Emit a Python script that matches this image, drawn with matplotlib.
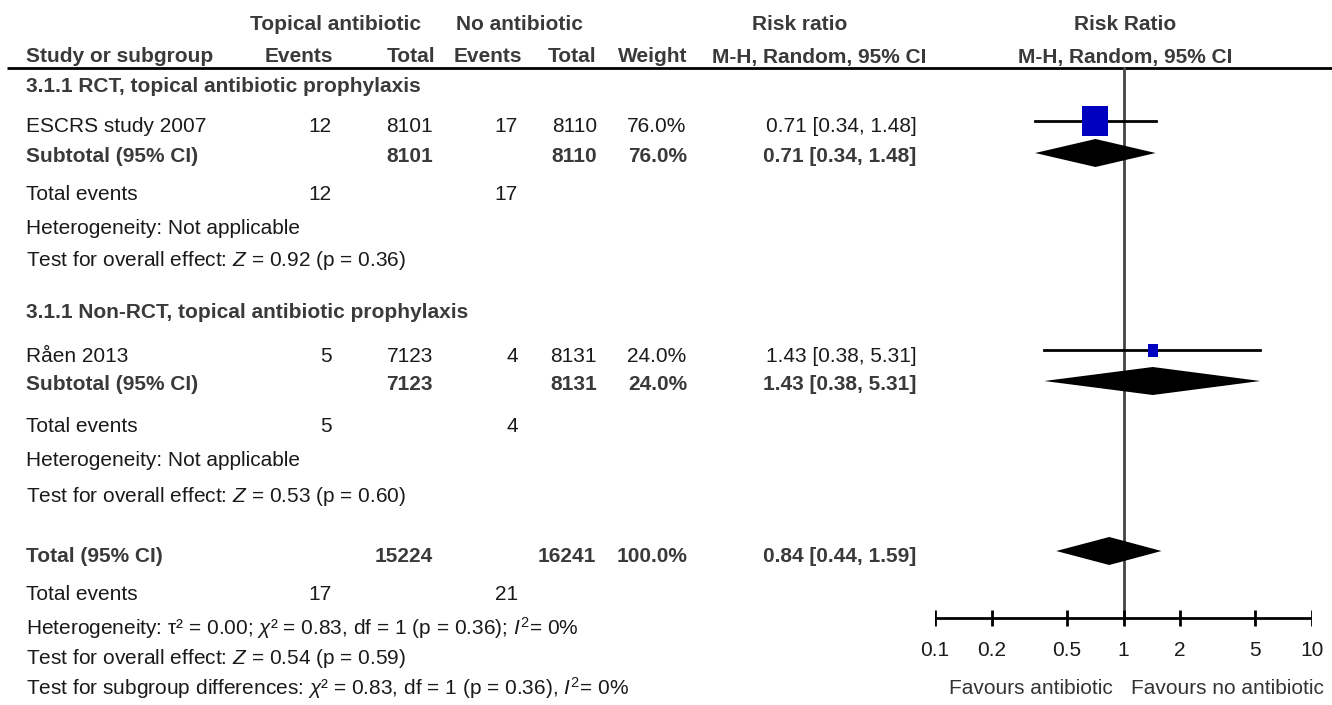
import matplotlib
matplotlib.use('Agg')
import matplotlib.pyplot as plt
from matplotlib import font_manager

# the reference uses an Arial Narrow look; use Liberation Sans Narrow when present
try:
    font_manager.findfont('Liberation Sans Narrow', fallback_to_default=False)
    FAMILY, FS = 'Liberation Sans Narrow', 17.5
except Exception:
    FAMILY, FS = 'Liberation Sans', 15

plt.rcParams['font.family'] = [FAMILY, 'Liberation Sans', 'DejaVu Sans']
plt.rcParams['font.size'] = FS
plt.rcParams['mathtext.fontset'] = 'custom'
plt.rcParams['mathtext.rm'] = FAMILY
plt.rcParams['mathtext.it'] = FAMILY + ':italic'

# study data
studies = ['ESCRS study 2007', 'Råen 2013']
ev_trt = [12, 5]
n_trt = [8101, 7123]
ev_ctl = [17, 4]
n_ctl = [8110, 8131]
weights = [76.0, 24.0]
rr = [0.71, 1.43]
rr_lo = [0.34, 0.38]
rr_hi = [1.48, 5.31]

groups = ['3.1.1 RCT, topical antibiotic prophylaxis',
          '3.1.1 Non-RCT, topical antibiotic prophylaxis']
group_z = ['0.92 (p = 0.36)', '0.53 (p = 0.60)']

tot_n_trt, tot_n_ctl = 15224, 16241
tot_ev_trt, tot_ev_ctl = 17, 21
tot_rr, tot_lo, tot_hi = 0.84, 0.44, 1.59

ticks = [0.1, 0.2, 0.5, 1, 2, 5, 10]
tick_labels = ['0.1', '0.2', '0.5', '1', '2', '5', '10']

DARK = '#1a1a1a'
BOLD = '#3a3a3a'
BLUE = '#0000c0'

fig = plt.figure(figsize=(13.32, 7.05), dpi=100)
ax = fig.add_axes([0, 0, 1, 1])
ax.set_xlim(0, 1332)
ax.set_ylim(705, 0)
ax.axis('off')

# forest panel: log x scale, pixel y
fx0, fx1 = 935, 1312
fa = fig.add_axes([fx0 / 1332, 0, (fx1 - fx0) / 1332, 1])
fa.set_xscale('log')
fa.set_xlim(0.1, 10)
fa.set_ylim(705, 0)
fa.axis('off')


def txt(x, y, s, ha='left', bold=False, color=None):
    ax.text(x, y, s, ha=ha, va='center_baseline', fontsize=FS,
            fontweight='bold' if bold else 'normal',
            color=color or (BOLD if bold else DARK))


# header
ax.plot([7, 1332], [68, 68], color='black', lw=2, solid_capstyle='butt')
txt(336, 22, 'Topical antibiotic', ha='center', bold=True)
txt(519, 22, 'No antibiotic', ha='center', bold=True)
txt(800, 22, 'Risk ratio', ha='center', bold=True)
txt(1125, 22, 'Risk Ratio', ha='center', bold=True)
txt(26, 55, 'Study or subgroup', bold=True)
txt(333, 55, 'Events', ha='right', bold=True)
txt(435, 55, 'Total', ha='right', bold=True)
txt(522, 55, 'Events', ha='right', bold=True)
txt(596, 55, 'Total', ha='right', bold=True)
txt(687, 55, 'Weight', ha='right', bold=True)
txt(926, 55, 'M-H, Random, 95% CI', ha='right', bold=True)
txt(1125, 55, 'M-H, Random, 95% CI', ha='center', bold=True)

col_ev1, col_n1, col_ev2, col_n2, col_w, col_rr = 332, 433, 518, 597, 686, 917

group_y = [84, 311]
study_y = [125, 354]
sub_y = [154, 382]
events_y = [193, 425]
het_y = [226, 458]
eff_y = [257, 493]

square_h = [30, 13]

for i in range(2):
    ci = '%.2f [%.2f, %.2f]' % (rr[i], rr_lo[i], rr_hi[i])
    txt(26, group_y[i], groups[i], bold=True)
    txt(26, study_y[i], studies[i])
    txt(col_ev1, study_y[i], str(ev_trt[i]), ha='right')
    txt(col_n1, study_y[i], str(n_trt[i]), ha='right')
    txt(col_ev2, study_y[i], str(ev_ctl[i]), ha='right')
    txt(col_n2, study_y[i], str(n_ctl[i]), ha='right')
    txt(col_w, study_y[i], '%.1f%%' % weights[i], ha='right')
    txt(col_rr, study_y[i], ci, ha='right')

    txt(26, sub_y[i], 'Subtotal (95% CI)', bold=True)
    txt(col_n1, sub_y[i], str(n_trt[i]), ha='right', bold=True)
    txt(col_n2, sub_y[i], str(n_ctl[i]), ha='right', bold=True)
    txt(col_w + 1, sub_y[i], '%.1f%%' % weights[i], ha='right', bold=True)
    txt(col_rr - 1, sub_y[i], ci, ha='right', bold=True)

    txt(26, events_y[i], 'Total events')
    txt(col_ev1, events_y[i], str(ev_trt[i]), ha='right')
    txt(col_ev2, events_y[i], str(ev_ctl[i]), ha='right')
    txt(26, het_y[i], 'Heterogeneity: Not applicable')
    txt(26, eff_y[i], r'Test for overall effect: $\mathit{Z}$ = ' + group_z[i])

    # study CI and weight square
    yc = study_y[i] - 4
    fa.plot([rr_lo[i], rr_hi[i]], [yc, yc], color='black', lw=2, zorder=3)
    h = square_h[i]
    fa.plot([rr[i]], [yc], marker=[(-0.42, -0.5), (0.42, -0.5), (0.42, 0.5), (-0.42, 0.5)],
            markersize=h * 0.72, color=BLUE, markeredgewidth=0, zorder=4)
    # subtotal diamond
    yc = sub_y[i] - 1
    fa.fill([rr_lo[i], rr[i], rr_hi[i], rr[i]], [yc, yc - 14, yc, yc + 14],
            color='black', lw=0, zorder=4)

# overall
tot_y = 555
txt(26, tot_y, 'Total (95% CI)', bold=True)
txt(col_n1, tot_y, str(tot_n_trt), ha='right', bold=True)
txt(col_n2 - 1, tot_y, str(tot_n_ctl), ha='right', bold=True)
txt(col_w + 1, tot_y, '100.0%', ha='right', bold=True)
txt(col_rr - 1, tot_y, '%.2f [%.2f, %.2f]' % (tot_rr, tot_lo, tot_hi), ha='right', bold=True)
txt(26, 593, 'Total events')
txt(col_ev1, 593, str(tot_ev_trt), ha='right')
txt(col_ev2, 593, str(tot_ev_ctl), ha='right')
txt(26, 625, 'Heterogeneity: τ² = 0.00; $\\chi$² = 0.83, df = 1 (p = 0.36); $\\mathit{I}^{2}$= 0%')
txt(26, 656, r'Test for overall effect: $\mathit{Z}$ = 0.54 (p = 0.59)')
txt(26, 685, 'Test for subgroup differences: $\\chi$² = 0.83, df = 1 (p = 0.36), $\\mathit{I}^{2}$= 0%')

yc = tot_y - 4
fa.fill([tot_lo, tot_rr, tot_hi, tot_rr], [yc, yc - 14, yc, yc + 14],
        color='black', lw=0, zorder=4)

# null line and scale
axis_y = 618
fa.plot([1, 1], [68, axis_y], color='#444444', lw=2, zorder=2)
fa.plot([ticks[0], ticks[-1]], [axis_y, axis_y], color='black', lw=2, solid_capstyle='butt')
fa.vlines(ticks, axis_y - 8, axis_y + 8, color='black', lw=2)
for t, lab in zip(ticks, tick_labels):
    fa.text(t, 649, lab, ha='center', va='center_baseline', fontsize=FS, color=DARK, clip_on=False)
fa.text(0.88, 686, 'Favours antibiotic', ha='right', va='center_baseline', fontsize=FS, color='#333333')
fa.text(1.1, 686, 'Favours no antibiotic', ha='left', va='center_baseline', fontsize=FS, color='#333333')

fig.savefig('out.png', dpi=100)
